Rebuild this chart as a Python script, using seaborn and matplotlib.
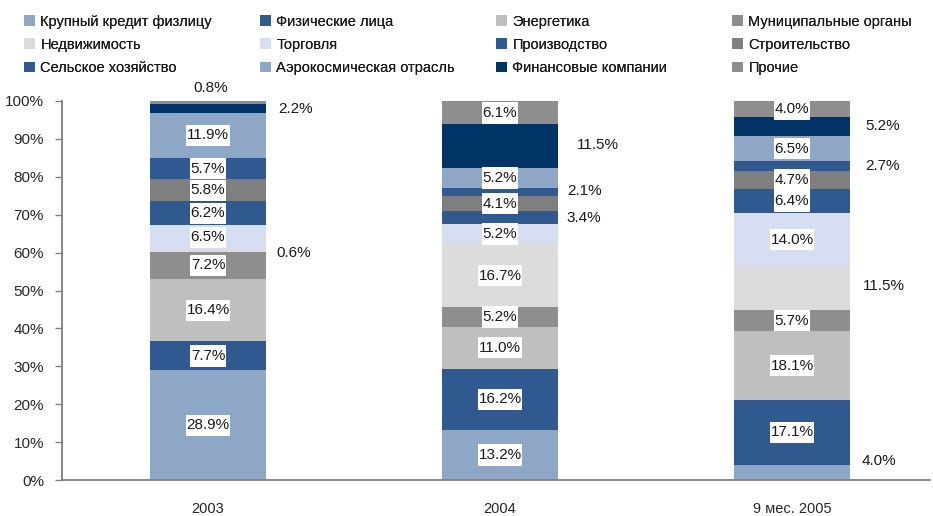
import matplotlib
matplotlib.use("Agg")
import matplotlib.pyplot as plt
from matplotlib.patches import Patch
from matplotlib.path import Path
import pandas as pd
import seaborn as sns

# Loan portfolio structure by sector, % of total
periods = ["2003", "2004", "9 мес. 2005"]
sectors = [
    "Крупный кредит физлицу", "Физические лица", "Энергетика", "Муниципальные органы",
    "Недвижимость", "Торговля", "Производство", "Строительство",
    "Сельское хозяйство", "Аэрокосмическая отрасль", "Финансовые компании", "Прочие",
]
share_2003 = [28.9, 7.7, 16.4, 7.2, 0.6, 6.5, 6.2, 5.8, 5.7, 11.9, 2.2, 0.8]
share_2004 = [13.2, 16.2, 11.0, 5.2, 16.7, 5.2, 3.4, 4.1, 2.1, 5.2, 11.5, 6.1]
share_2005 = [4.0, 17.1, 18.1, 5.7, 11.5, 14.0, 6.4, 4.7, 2.7, 6.5, 5.2, 4.0]
yticks = [0, 10, 20, 30, 40, 50, 60, 70, 80, 90, 100]

sector_colors = [
    "#8FA7C7", "#30598F", "#BFBFBF", "#8E8E8E",
    "#DCDCDC", "#D7DEF2", "#30598F", "#7F7F7F",
    "#30598F", "#8FA7C7", "#003366", "#8E8E8E",
]

# labels drawn beside the bar instead of inside it: (period, sector) -> (dx px, dy px)
outside_labels = {
    (0, 4): (10, -2), (0, 10): (12, 0),
    (1, 6): (8, 0), (1, 8): (9, 1), (1, 10): (18, 1),
    (2, 0): (11, 11), (2, 4): (12, 2), (2, 8): (15, 0), (2, 10): (15, 0),
}
# labels lifted above the top of the bar: (period, sector) -> (dx px, dy px)
above_labels = {(0, 11): (3, 13)}


def label_box(x0, y0, width, height, mutation_size):
    """White label box: tight left/right, generous top/bottom."""
    px = 0.04 * mutation_size
    py = 0.24 * mutation_size
    xa, ya = x0 - px, y0 - py
    xb, yb = x0 + width + px, y0 + height + py
    return Path([(xa, ya), (xb, ya), (xb, yb), (xa, yb), (xa, ya)], closed=True)


sns.set_style("white")
plt.rcParams["font.family"] = ["Liberation Sans", "DejaVu Sans"]
plt.rcParams["font.size"] = 11
plt.rcParams["text.color"] = "#1a1a1a"

rows = []
for period, shares in zip(periods, [share_2003, share_2004, share_2005]):
    bottom = 0.0
    for sector, value in zip(sectors, shares):
        rows.append({"period": period, "sector": sector, "share": value,
                     "bottom": bottom, "top": bottom + value})
        bottom += value
df = pd.DataFrame(rows)

fig = plt.figure(figsize=(9.33, 5.16), dpi=100)
W, H = 933, 516
left_px, right_px, top_px, bottom_px = 62, 930, 101, 480
ax = fig.add_axes([left_px / W, (H - bottom_px) / H,
                   (right_px - left_px) / W, (bottom_px - top_px) / H])

bar_width = 0.4
# stack by drawing cumulative totals from the top sector down
for sector, color in reversed(list(zip(sectors, sector_colors))):
    sub = df[df["sector"] == sector]
    sns.barplot(data=sub, x="period", y="top", order=periods, color=color,
                saturation=1, width=bar_width, errorbar=None, linewidth=0, ax=ax)

box = dict(boxstyle=label_box, fc="white", ec="none")
for _, r in df.iterrows():
    i = periods.index(r["period"])
    j = sectors.index(r["sector"])
    mid = r["bottom"] + r["share"] / 2
    text = f"{r['share']:.1f}%"
    if (i, j) in outside_labels:
        dx, dy = outside_labels[(i, j)]
        ax.annotate(text, (i + bar_width / 2, mid), xytext=(dx, dy),
                    textcoords="offset pixels", ha="left", va="center")
    elif (i, j) in above_labels:
        dx, dy = above_labels[(i, j)]
        ax.annotate(text, (i, r["top"]), xytext=(dx, dy),
                    textcoords="offset pixels", ha="center", va="center", bbox=box)
    else:
        ax.annotate(text, (i, mid), ha="center", va="center", bbox=box)

ax.set_xlim(-0.5, -0.5 + (right_px - left_px) / 292)
ax.set_ylim(0, 100)
ax.set_yticks(yticks)
ax.set_yticklabels([f"{t}%" for t in yticks])
ax.set_xlabel("")
ax.set_ylabel("")
ax.set_xticks(range(len(periods)))
ax.set_xticklabels(periods)
ax.set_xticks([0.5, 1.5], minor=True)
ax.tick_params(axis="x", which="major", length=0, pad=16, labelsize=10.5)
ax.tick_params(axis="x", which="minor", length=4, width=1, color="#808080", direction="out")
ax.tick_params(axis="y", length=5, width=1, color="#808080", direction="out", pad=8,
               labelsize=11, left=True)
for side in ["top", "right"]:
    ax.spines[side].set_visible(False)
for side in ["left", "bottom"]:
    ax.spines[side].set_color("#808080")
    ax.spines[side].set_linewidth(1.3)

# legend laid out in four columns, filled row by row
ncols = 4
col_x = [24, 260, 496, 732]
for c in range(ncols):
    idx = list(range(c, len(sectors), ncols))
    handles = [Patch(facecolor=sector_colors[k], edgecolor="none") for k in idx]
    labels = [sectors[k] for k in idx]
    leg = fig.legend(handles, labels, loc="upper left",
                     bbox_to_anchor=(col_x[c] / W, (H - 15) / H),
                     frameon=False, fontsize=10.5, handlelength=0.78,
                     handleheight=0.78, handletextpad=0.35, labelspacing=0.62,
                     borderpad=0, borderaxespad=0)
    fig.add_artist(leg)

fig.savefig("out.png", dpi=100)
